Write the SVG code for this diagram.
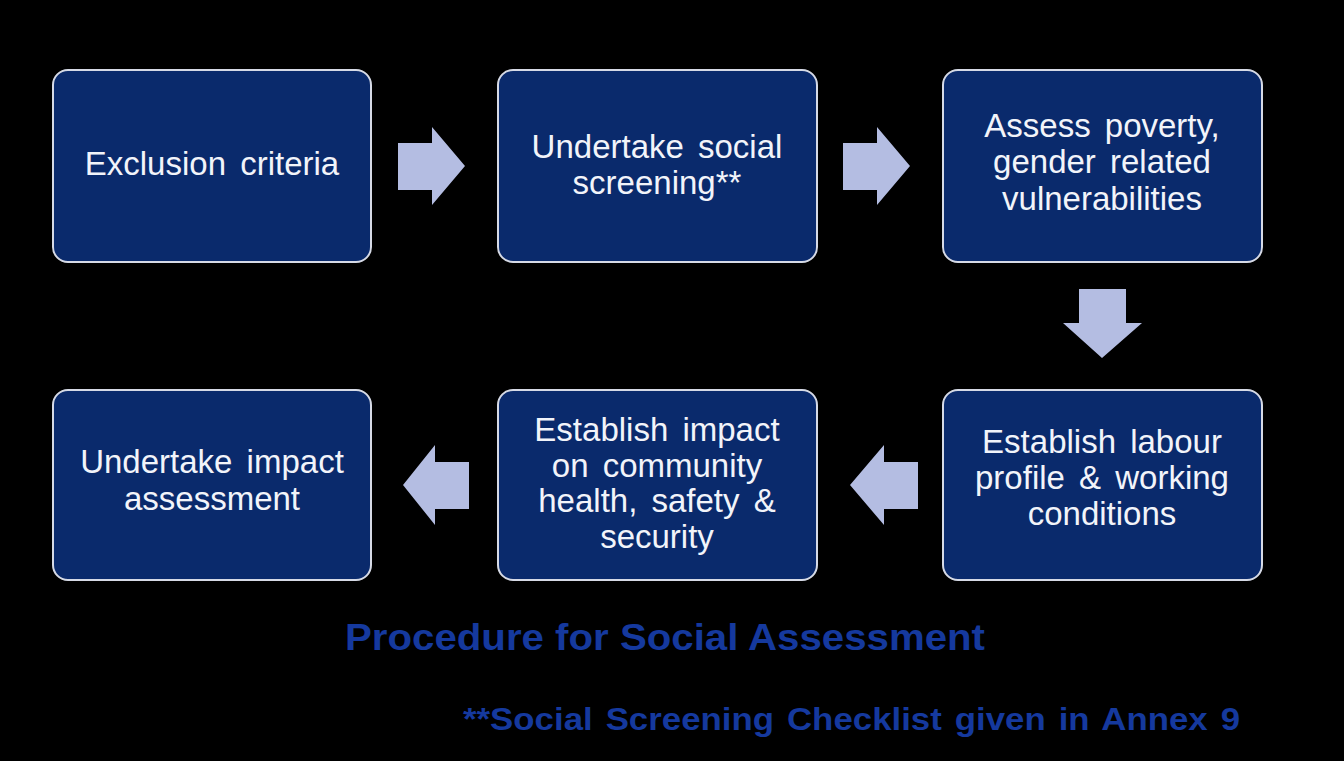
<svg xmlns="http://www.w3.org/2000/svg" width="1344" height="761" viewBox="0 0 1344 761">
  <style>
    .box { fill: #0a2a6c; stroke: #d6dae6; stroke-width: 2; }
    .label { font-family: "Liberation Sans", Arial, sans-serif; font-size: 33px; fill: #f2f4fa; text-anchor: middle; word-spacing: 5px; }
    .flow { fill: #b4bde2; }
    .title { font-family: "Liberation Sans", Arial, sans-serif; font-weight: bold; fill: #15399e; }
  </style>
  <rect x="0" y="0" width="1344" height="761" fill="#000000"/>

  <!-- process steps -->
  <g id="exclusion-criteria">
    <rect class="box" x="53" y="70" width="318" height="192" rx="15"/>
    <text class="label" x="212" y="175">Exclusion criteria</text>
  </g>
  <g id="social-screening">
    <rect class="box" x="498" y="70" width="319" height="192" rx="15"/>
    <text class="label" x="657" y="158">Undertake social</text>
    <text class="label" x="657" y="194">screening**</text>
  </g>
  <g id="assess-poverty">
    <rect class="box" x="943" y="70" width="319" height="192" rx="15"/>
    <text class="label" x="1102" y="137">Assess poverty,</text>
    <text class="label" x="1102" y="173">gender related</text>
    <text class="label" x="1102" y="210">vulnerabilities</text>
  </g>
  <g id="labour-profile">
    <rect class="box" x="943" y="390" width="319" height="190" rx="15"/>
    <text class="label" x="1102" y="453">Establish labour</text>
    <text class="label" x="1102" y="489">profile &amp; working</text>
    <text class="label" x="1102" y="525">conditions</text>
  </g>
  <g id="community-impact">
    <rect class="box" x="498" y="390" width="319" height="190" rx="15"/>
    <text class="label" x="657" y="441">Establish impact</text>
    <text class="label" x="657" y="477">on community</text>
    <text class="label" x="657" y="512">health, safety &amp;</text>
    <text class="label" x="657" y="548">security</text>
  </g>
  <g id="impact-assessment">
    <rect class="box" x="53" y="390" width="318" height="190" rx="15"/>
    <text class="label" x="212" y="473">Undertake impact</text>
    <text class="label" x="212" y="510">assessment</text>
  </g>

  <!-- block arrows between steps -->
  <g id="connectors">
    <polygon class="flow" points="398,143 432,143 432,127 465,166 432,205 432,190 398,190"/>
    <polygon class="flow" points="843,143 877,143 877,127 910,166 877,205 877,190 843,190"/>
    <polygon class="flow" points="1079,289 1126,289 1126,323 1142,323 1102,358 1063,323 1079,323"/>
    <polygon class="flow" points="918,462 884,462 884,445 850,485 884,525 884,509 918,509"/>
    <polygon class="flow" points="469,462 435,462 435,445 403,485 435,525 435,509 469,509"/>
  </g>

  <!-- captions -->
  <text class="title" x="345" y="650" font-size="36" textLength="640" lengthAdjust="spacingAndGlyphs">Procedure for Social Assessment</text>
  <text class="title" x="463" y="730" font-size="32" word-spacing="3" textLength="777" lengthAdjust="spacingAndGlyphs">**Social Screening Checklist given in Annex 9</text>
</svg>
